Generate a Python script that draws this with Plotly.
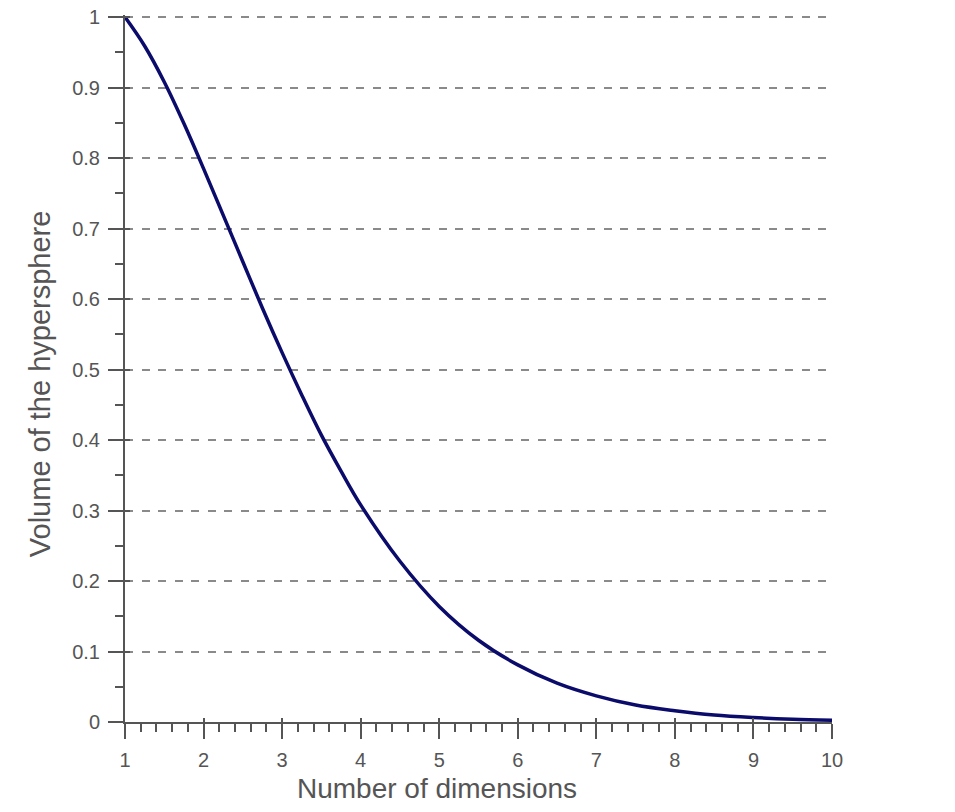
import plotly.graph_objects as go

# Values
dimensions = [1.0, 1.25, 1.5, 1.75, 2.0, 2.25, 2.5, 2.75, 3.0, 3.25, 3.5, 3.75,
              4.0, 4.5, 5.0, 5.5, 6.0, 6.5, 7.0, 7.5, 8.0, 8.5, 9.0, 9.5, 10.0]
volume = [1.0, 0.959, 0.908, 0.849, 0.785, 0.719, 0.653, 0.587, 0.524, 0.464,
          0.407, 0.356, 0.308, 0.228, 0.164, 0.116, 0.081, 0.055, 0.037, 0.024,
          0.016, 0.010, 0.0064, 0.0040, 0.0025]

x_ticks = [1, 2, 3, 4, 5, 6, 7, 8, 9, 10]
y_ticks = [0, 0.1, 0.2, 0.3, 0.4, 0.5, 0.6, 0.7, 0.8, 0.9, 1]
y_tick_text = ["0", "0.1", "0.2", "0.3", "0.4", "0.5", "0.6", "0.7", "0.8", "0.9", "1"]

x_title = "Number of dimensions"
y_title = "Volume of the hypersphere"

FONT = "Liberation Sans, Arial, sans-serif"
AXIS_COLOR = "#555555"
LABEL_COLOR = "#555555"

fig = go.Figure()
fig.add_trace(go.Scatter(
    x=dimensions, y=volume, mode="lines",
    line=dict(color="#0b0b6b", width=3.5, shape="spline", smoothing=1.0),
    showlegend=False, hoverinfo="x+y",
))
# invisible trace on the overlay axes so they render (inside half of crossing ticks)
fig.add_trace(go.Scatter(x=[dimensions[0]], y=[volume[0]], xaxis="x2", yaxis="y2",
                         mode="lines", showlegend=False, hoverinfo="skip",
                         line=dict(width=0)))

Y_RANGE = [0, 1.003]

fig.update_layout(
    width=955, height=812,
    margin=dict(l=117, r=131, t=7, b=98),
    paper_bgcolor="white", plot_bgcolor="white",
    font=dict(family=FONT, color=LABEL_COLOR),
    xaxis=dict(
        range=[1, 10], tickvals=x_ticks, ticks="outside", ticklen=15, tickwidth=2,
        tickcolor=AXIS_COLOR, showline=True, linecolor=AXIS_COLOR, linewidth=2,
        showgrid=False, zeroline=False, tickfont=dict(size=20, color=LABEL_COLOR),
        ticklabelstandoff=4, automargin=False, ticklabeloverflow="allow",
        minor=dict(dtick=0.2, ticks="outside", ticklen=8, tickwidth=1.5,
                   tickcolor=AXIS_COLOR, showgrid=False),
    ),
    yaxis=dict(
        range=Y_RANGE, tickvals=y_ticks, ticktext=y_tick_text, ticks="outside",
        ticklen=15, tickwidth=2, tickcolor=AXIS_COLOR, showline=True,
        linecolor=AXIS_COLOR, linewidth=2, showgrid=True, gridcolor="#8a8a8a",
        gridwidth=2, griddash="8px,8.5px", zeroline=False,
        tickfont=dict(size=20, color=LABEL_COLOR), ticklabelstandoff=4,
        automargin=False, ticklabeloverflow="allow",
        minor=dict(dtick=0.05, ticks="outside", ticklen=8, tickwidth=1.5,
                   tickcolor=AXIS_COLOR, showgrid=False),
    ),
    xaxis2=dict(range=[1, 10], overlaying="x", tickvals=x_ticks, ticks="inside",
                ticklen=4, tickwidth=2, tickcolor=AXIS_COLOR, showticklabels=False,
                showline=False, showgrid=False, zeroline=False, automargin=False),
    yaxis2=dict(range=Y_RANGE, overlaying="y", tickvals=y_ticks, ticks="inside",
                ticklen=5, tickwidth=2, tickcolor=AXIS_COLOR, showticklabels=False,
                showline=False, showgrid=False, zeroline=False, automargin=False),
    annotations=[
        dict(text=x_title, xref="paper", yref="paper", x=0.441, y=-0.094,
             xanchor="center", yanchor="middle", showarrow=False,
             font=dict(size=28, color=LABEL_COLOR, family=FONT)),
        dict(text=y_title, xref="paper", yref="paper", x=-0.120, y=0.478,
             xanchor="center", yanchor="middle", showarrow=False, textangle=-90,
             font=dict(size=29, color=LABEL_COLOR, family=FONT)),
    ],
)

fig.write_html("out.html")
